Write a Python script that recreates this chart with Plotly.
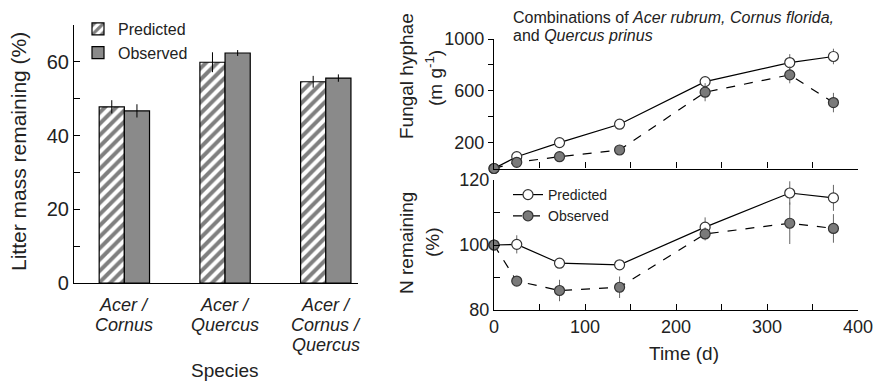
import plotly.graph_objects as go

# ---- data ----
species_lines = [["Acer /", "Cornus"], ["Acer /", "Quercus"], ["Acer /", "Cornus /", "Quercus"]]
species = [" ".join(s) for s in species_lines]
mass_pred = [47.8, 59.9, 54.6]
mass_pred_err = [1.8, 2.7, 1.6]
mass_obs = [46.7, 62.4, 55.6]
mass_obs_err = [1.8, 0.8, 1.0]

time_d = [0, 25, 72, 138, 232, 325, 373]
hyphae_pred = [0, 91, 200, 342, 671, 818, 865]
hyphae_pred_err = [0, 15, 15, 15, 20, 65, 60]
hyphae_obs = [0, 48, 91, 143, 589, 723, 509]
hyphae_obs_err = [0, 10, 15, 25, 70, 65, 75]

n_pred = [100, 100.2, 94.4, 93.9, 105.5, 116.0, 114.5]
n_pred_err = [0, 2.8, 1.0, 1.0, 3.0, 3.6, 4.0]
n_obs = [100, 88.9, 86.0, 87.0, 103.4, 106.7, 105.1]
n_obs_err = [0, 1.0, 3.3, 3.3, 2.0, 6.4, 4.4]

FONT = "Liberation Sans, Arial, sans-serif"
W, H = 877, 382

def py(px):  # pixel from top -> paper fraction
    return 1 - px / H

def px_x(px):
    return px / W

fig = go.Figure()

# ---- bar panel ----
fig.add_trace(go.Bar(
    x=species, y=mass_pred, name="Predicted",
    marker=dict(color="white", line=dict(color="black", width=1.2),
                pattern=dict(shape="/", fgcolor="black", bgcolor="white", size=8, solidity=0.5)),
    error_y=dict(type="data", array=mass_pred_err, color="black", thickness=1, width=0),
    xaxis="x", yaxis="y", legend="legend"))
fig.add_trace(go.Bar(
    x=species, y=mass_obs, name="Observed",
    marker=dict(color="#8a8a8a", line=dict(color="black", width=1.2)),
    error_y=dict(type="data", array=mass_obs_err, color="black", thickness=1, width=0),
    xaxis="x", yaxis="y", legend="legend"))

# ---- hyphae panel ----
fig.add_trace(go.Scatter(
    x=time_d, y=hyphae_pred, mode="lines+markers", name="Predicted", showlegend=False,
    line=dict(color="black", width=1.2),
    marker=dict(symbol="circle", size=10, color="white", line=dict(color="#333", width=1.2)),
    error_y=dict(type="data", array=hyphae_pred_err, color="#666", thickness=1, width=0),
    cliponaxis=False, xaxis="x2", yaxis="y2"))
fig.add_trace(go.Scatter(
    x=time_d, y=hyphae_obs, mode="lines+markers", name="Observed", showlegend=False,
    line=dict(color="black", width=1.2, dash="dash"),
    marker=dict(symbol="circle", size=10, color="#7a7a7a", line=dict(color="#333", width=1.2)),
    error_y=dict(type="data", array=hyphae_obs_err, color="#666", thickness=1, width=0),
    cliponaxis=False, xaxis="x2", yaxis="y2"))

# ---- N panel ----
fig.add_trace(go.Scatter(
    x=time_d, y=n_pred, mode="lines+markers", name="Predicted",
    line=dict(color="black", width=1.2),
    marker=dict(symbol="circle", size=10, color="white", line=dict(color="#333", width=1.2)),
    error_y=dict(type="data", array=n_pred_err, color="#666", thickness=1, width=0),
    cliponaxis=False, xaxis="x3", yaxis="y3", legend="legend2"))
fig.add_trace(go.Scatter(
    x=time_d, y=n_obs, mode="lines+markers", name="Observed",
    line=dict(color="black", width=1.2, dash="dash"),
    marker=dict(symbol="circle", size=10, color="#7a7a7a", line=dict(color="#333", width=1.2)),
    error_y=dict(type="data", array=n_obs_err, color="#666", thickness=1, width=0),
    cliponaxis=False, xaxis="x3", yaxis="y3", legend="legend2"))

axis_common = dict(showline=True, linecolor="black", linewidth=1.2, showgrid=False,
                   zeroline=False, tickcolor="black", automargin=False)
tf_right = dict(size=18, color="#222")
tf_left = dict(size=20, color="#222")

right_dom = [px_x(494), px_x(858)]

fig.update_layout(
    width=W, height=H, margin=dict(l=0, r=0, t=0, b=0, autoexpand=False),
    paper_bgcolor="white", plot_bgcolor="white",
    font=dict(family=FONT, color="#222"),
    barmode="group", bargap=0.5, bargroupgap=0,
    xaxis=dict(**axis_common, tickfont=tf_left,
               domain=[px_x(74), px_x(358)], range=[-0.5, 2.32],
               showticklabels=False, ticks="", anchor="y"),
    yaxis=dict(**axis_common, tickfont=tf_left, domain=[py(283), py(25)], range=[0, 70],
               tickvals=[0, 20, 40, 60], ticks="inside", ticklen=6,
               minor=dict(dtick=10, ticks="inside", ticklen=6, tickcolor="black"),
               anchor="x"),
    xaxis2=dict(**axis_common, tickfont=tf_right, domain=right_dom, range=[0, 400], anchor="y2",
                dtick=50, ticks="inside", ticklen=6, showticklabels=False),
    yaxis2=dict(**axis_common, tickfont=tf_right, domain=[py(168.5), py(39)], range=[0, 1000],
                anchor="x2", tickvals=[200, 600, 1000], ticks="outside", ticklen=5,
                minor=dict(tickvals=[400, 800], ticks="outside", ticklen=5, tickcolor="black")),
    xaxis3=dict(**axis_common, tickfont=tf_right, domain=right_dom, range=[0, 400], anchor="y3",
                dtick=100, ticks="inside", ticklen=6,
                minor=dict(dtick=50, ticks="inside", ticklen=6, tickcolor="black")),
    yaxis3=dict(**axis_common, tickfont=tf_right, domain=[py(310), py(180)], range=[80, 120],
                anchor="x3", tickvals=[80, 100, 120], ticks="inside", ticklen=6,
                minor=dict(dtick=10, ticks="inside", ticklen=6, tickcolor="black")),
    legend=dict(x=px_x(78), y=py(12), xanchor="left", yanchor="top",
                bgcolor="rgba(0,0,0,0)", font=dict(size=16, color="#222"),
                itemwidth=30, tracegroupgap=0),
    legend2=dict(x=px_x(508), y=py(179), xanchor="left", yanchor="top",
                 bgcolor="rgba(0,0,0,0)", font=dict(size=14, color="#222"),
                 itemwidth=30, tracegroupgap=0),
)

ann = []
# category labels (one annotation per line, positioned on the category axis)
for sp, lines in zip(species, species_lines):
    for i, ln in enumerate(lines):
        ann.append(dict(x=sp, xref="x", y=py(305 + 20 * i), yref="paper",
                        text=f"<i>{ln}</i>", showarrow=False, xanchor="center",
                        yanchor="middle", font=dict(size=18, color="#222")))
ann += [
    dict(x=px_x(225), y=py(370), xref="paper", yref="paper", text="Species",
         showarrow=False, font=dict(size=19), xanchor="center", yanchor="middle"),
    dict(x=px_x(18), y=py(152), xref="paper", yref="paper", text="Litter mass remaining (%)",
         showarrow=False, textangle=-90, font=dict(size=21), xanchor="center", yanchor="middle"),
    dict(x=px_x(406), y=py(76), xref="paper", yref="paper", text="Fungal hyphae",
         showarrow=False, textangle=-90, font=dict(size=19), xanchor="center", yanchor="middle"),
    dict(x=px_x(434), y=py(78), xref="paper", yref="paper", text="(m g<sup>-1</sup>)",
         showarrow=False, textangle=-90, font=dict(size=19), xanchor="center", yanchor="middle"),
    dict(x=px_x(406), y=py(243), xref="paper", yref="paper", text="N remaining",
         showarrow=False, textangle=-90, font=dict(size=19), xanchor="center", yanchor="middle"),
    dict(x=px_x(433), y=py(242), xref="paper", yref="paper", text="(%)",
         showarrow=False, textangle=-90, font=dict(size=19), xanchor="center", yanchor="middle"),
    dict(x=px_x(684), y=py(353), xref="paper", yref="paper", text="Time (d)",
         showarrow=False, font=dict(size=19), xanchor="center", yanchor="middle"),
    dict(x=px_x(511), y=py(18), xref="paper", yref="paper",
         text="Combinations of <i>Acer rubrum, Cornus florida,</i>",
         showarrow=False, font=dict(size=16), xanchor="left", yanchor="middle"),
    dict(x=px_x(511), y=py(36), xref="paper", yref="paper",
         text="and <i>Quercus prinus</i>",
         showarrow=False, font=dict(size=16), xanchor="left", yanchor="middle"),
]
fig.update_layout(annotations=ann)

fig.write_html("out.html", config={"displayModeBar": False},
               post_script="document.body.style.margin='0';document.body.style.overflow='hidden';")
